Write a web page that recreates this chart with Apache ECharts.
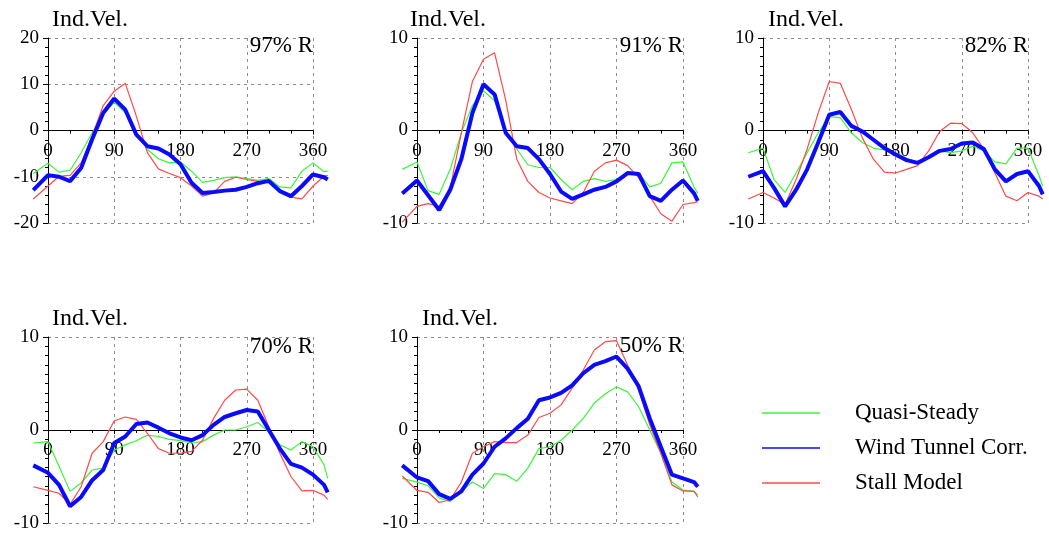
<!DOCTYPE html>
<html>
<head>
<meta charset="utf-8">
<script src="https://cdn.jsdelivr.net/npm/echarts@6/dist/echarts.min.js"></script>
<style>
html,body{margin:0;padding:0;background:#fff;}
#chart{width:1049px;height:538px;}
</style>
</head>
<body>
<div id="chart"></div>
<script>
// azimuth angles (deg)
const angles = [-20,0,15,30,45,60,75,90,105,120,135,150,165,180,195,210,225,240,255,270,285,300,315,330,345,360,375,380];
const xTicks = [0, 90, 180, 270, 360];
const seriesNames = ['Quasi-Steady', 'Wind Tunnel Corr.', 'Stall Model'];
const panelLabels = ['97% R', '91% R', '82% R', '70% R', '50% R'];

// 97% R
const qs97  = [-9.3,-7.1,-9.0,-8.6,-4.8,-0.5,3.5,6.1,3.8,-0.5,-4.1,-6.1,-7.0,-6.8,-8.8,-11.2,-10.8,-10.2,-10.0,-10.4,-10.8,-10.4,-12.2,-12.4,-8.8,-7.0,-8.9,-8.8];
const wtc97 = [-12.9,-9.65,-10.0,-10.95,-8.1,-1.9,3.8,6.9,4.5,-0.9,-3.4,-3.9,-5.2,-7.3,-11.3,-13.5,-13.3,-13.0,-12.8,-12.2,-11.4,-10.9,-13.1,-14.2,-12.0,-9.5,-10.1,-10.6];
const sm97  = [-14.8,-12.0,-9.9,-9.7,-7.0,-1.2,5.4,8.5,10.2,3.1,-4.8,-8.3,-9.3,-10.2,-12.0,-14.2,-13.5,-11.0,-10.1,-10.6,-11.0,-11.1,-13.3,-14.4,-14.8,-12.0,-9.9,-9.7];
// 91% R
const qs91  = [-4.2,-3.4,-6.5,-6.9,-4.2,-0.25,2.7,4.3,3.2,-0.1,-2.0,-3.7,-4.0,-4.0,-5.3,-6.4,-5.5,-5.2,-5.5,-5.3,-4.6,-4.6,-6.1,-5.7,-3.5,-3.4,-6.1,-6.8];
const wtc91 = [-6.8,-5.4,-7.0,-8.6,-6.4,-3.1,1.9,5.0,3.9,-0.25,-1.7,-1.9,-3.1,-4.7,-6.6,-7.4,-6.9,-6.4,-6.1,-5.5,-4.6,-4.7,-7.1,-7.6,-6.4,-5.4,-6.8,-7.6];
const sm91  = [-9.9,-8.2,-7.9,-8.2,-6.2,-0.25,5.3,7.7,8.4,3.3,-3.1,-5.5,-6.7,-7.3,-7.6,-7.9,-6.7,-4.4,-3.5,-3.2,-3.8,-5.1,-7.1,-9.0,-9.8,-8.0,-7.8,-7.7];
// 82% R
const qs82  = [-2.4,-1.9,-5.3,-6.7,-4.6,-2.4,-0.25,1.5,1.4,-0.25,-1.3,-1.9,-2.1,-2.4,-3.0,-3.4,-2.8,-2.2,-2.4,-2.2,-1.7,-2.2,-3.4,-3.6,-1.9,-1.9,-4.9,-6.0];
const wtc82 = [-5.0,-4.4,-6.2,-8.2,-6.4,-4.2,-1.3,1.7,2.0,0.5,-0.1,-1.0,-1.9,-2.6,-3.2,-3.5,-2.9,-2.2,-2.0,-1.4,-1.3,-2.0,-4.2,-5.5,-4.7,-4.4,-6.0,-6.9];
const sm82  = [-7.4,-6.7,-7.3,-8.0,-5.3,-2.0,1.9,5.3,5.1,2.3,-0.8,-3.1,-4.5,-4.6,-4.2,-3.8,-2.2,-0.1,0.8,0.75,-0.25,-2.0,-4.6,-7.1,-7.6,-6.7,-7.1,-7.4];
// 70% R
const qs70  = [-1.4,-1.25,-3.9,-6.6,-5.7,-4.3,-4.1,-2.15,-1.6,-1.15,-0.55,-0.7,-1.0,-1.15,-1.4,-1.25,-0.55,0,0,0.35,0.8,-0.2,-1.6,-2.15,-1.25,-1.8,-3.75,-5.2];
const wtc70 = [-3.8,-4.6,-5.9,-8.2,-7.2,-5.4,-4.3,-1.4,-0.7,0.65,0.8,0.25,-0.35,-0.8,-1.1,-0.55,0.55,1.4,1.8,2.15,2.0,0,-2.0,-3.65,-4.05,-4.8,-5.9,-6.7];
const sm70  = [-6.1,-6.5,-6.8,-8.0,-6.1,-2.5,-1.25,1.0,1.4,1.15,-0.35,-2.0,-2.5,-2.5,-2.3,-1.1,1.25,3.2,4.3,4.4,3.2,0.35,-2.5,-5.0,-6.55,-6.5,-7.0,-7.45];
// 50% R
const qs50  = [-5.2,-5.6,-6.0,-7.3,-7.7,-6.6,-5.6,-6.3,-4.7,-4.8,-5.5,-4.1,-2.0,-1.8,-1.1,0,1.25,2.9,3.9,4.65,4.1,2.5,0,-2.5,-5.6,-6.45,-6.6,-7.0];
const wtc50 = [-3.8,-5.1,-5.5,-6.9,-7.4,-6.6,-4.8,-3.6,-1.8,-0.9,0.2,1.2,3.2,3.5,4.0,4.8,6.1,7.0,7.4,7.9,6.6,4.7,1.25,-1.8,-4.8,-5.2,-5.6,-6.1];
const sm50  = [-4.95,-6.5,-6.7,-7.8,-7.5,-5.6,-2.5,-1.8,-1.25,-1.35,-1.35,-0.55,1.35,1.8,2.7,4.5,6.45,8.6,9.5,9.6,7.0,4.3,0.55,-2.5,-5.9,-6.55,-6.6,-7.2];

const yRanges = [20, 10, 10, 10, 10];
const panelData = [
  [qs97, wtc97, sm97],
  [qs91, wtc91, sm91],
  [qs82, wtc82, sm82],
  [qs70, wtc70, sm70],
  [qs50, wtc50, sm50]
];

const FONT = "'Liberation Serif','Times New Roman',serif";
const colors = ['#3cf53c', '#0a0aff', '#ff4a4a'];
const widths = [1.2, 4, 1.2];

// frame boxes (0..360 deg)
const frames = [
  {left: 48, top: 38, width: 265, height: 185},
  {left: 417, top: 38, width: 266, height: 185},
  {left: 763, top: 38, width: 265, height: 185},
  {left: 48, top: 337, width: 265, height: 186},
  {left: 417, top: 337, width: 266, height: 186}
];
const titlePos = [
  {left: 52, top: 8}, {left: 410, top: 8}, {left: 768, top: 8},
  {left: 52, top: 307}, {left: 422, top: 307}
];
const labelPos = [
  {right: 736, top: 34}, {right: 366, top: 34}, {right: 21, top: 34},
  {right: 736, top: 335}, {right: 366, top: 334}
];

const dashed = {show: true, lineStyle: {color: '#8c8c8c', type: [3, 4], width: 1}};
const xMin = angles[0], xMax = angles[angles.length - 1];
const xLo = xTicks[0], xHi = xTicks[xTicks.length - 1];

const grids = [], xAxes = [], yAxes = [], series = [], titles = [];
frames.forEach((g, i) => {
  const r = yRanges[i];
  const base = grids.length;
  // grid A: frame, dashed grid, y axis
  grids.push({left: g.left, top: g.top, width: g.width, height: g.height});
  xAxes.push({
    type: 'value', gridIndex: base, min: xLo, max: xHi, interval: 90,
    axisLine: {show: false}, axisTick: {show: false}, axisLabel: {show: false},
    splitLine: dashed
  });
  yAxes.push({
    type: 'value', gridIndex: base, min: -r, max: r, interval: 10,
    axisLine: {show: true, onZero: false, lineStyle: {color: '#000', width: 1}},
    axisTick: {show: true, length: 5, lineStyle: {color: '#000'}},
    minorTick: {show: true, splitNumber: r === 20 ? 5 : 10, length: 3, lineStyle: {color: '#000'}},
    axisLabel: {color: '#000', fontFamily: FONT, fontSize: 19, margin: 9, showMinLabel: true, showMaxLabel: true},
    splitLine: dashed
  });
  // grid B: upper half, bottom edge is the zero line -> x axis with labels
  grids.push({left: g.left, top: g.top, width: g.width, height: g.height / 2});
  xAxes.push({
    type: 'value', gridIndex: base + 1, position: 'bottom', min: xLo, max: xHi, interval: 90,
    axisLine: {show: true, onZero: false, lineStyle: {color: '#000', width: 1}},
    axisTick: {show: true, length: 4, lineStyle: {color: '#000'}},
    minorTick: {show: true, splitNumber: 3, length: 3, lineStyle: {color: '#000'}},
    axisLabel: {color: '#000', fontFamily: FONT, fontSize: 19, margin: 11, showMinLabel: true, showMaxLabel: true},
    splitLine: {show: false}
  });
  yAxes.push({type: 'value', gridIndex: base + 1, min: 0, max: r, show: false});
  // grid C: data area extended to xMin..xMax with same scale
  const pxPerDeg = g.width / (xHi - xLo);
  grids.push({left: g.left + (xMin - xLo) * pxPerDeg, top: g.top,
              width: (xMax - xMin) * pxPerDeg, height: g.height});
  xAxes.push({type: 'value', gridIndex: base + 2, min: xMin, max: xMax, show: false});
  yAxes.push({type: 'value', gridIndex: base + 2, min: -r, max: r, show: false});

  [0, 2, 1].forEach(k => {
    series.push({
      name: seriesNames[k], type: 'line', xAxisIndex: base + 2, yAxisIndex: base + 2,
      data: angles.map((a, j) => [a, panelData[i][k][j]]),
      showSymbol: false, symbol: 'none', clip: false, silent: true,
      color: colors[k],
      lineStyle: {color: colors[k], width: widths[k]},
      z: k === 1 ? 5 : 3
    });
  });
  titles.push({text: 'Ind.Vel.', left: titlePos[i].left, top: titlePos[i].top, padding: 0,
    textStyle: {fontFamily: FONT, fontSize: 24, fontWeight: 'normal', color: '#000'}});
  titles.push({text: panelLabels[i], right: labelPos[i].right, top: labelPos[i].top, padding: 0,
    textStyle: {fontFamily: FONT, fontSize: 23, fontWeight: 'normal', color: '#000'}});
});

const chart = echarts.init(document.getElementById('chart'), null, {renderer: 'canvas'});
chart.setOption({
  backgroundColor: '#fff',
  animation: false,
  title: titles,
  legend: {
    data: seriesNames, orient: 'vertical', left: 762, top: 401,
    icon: 'rect', itemWidth: 58, itemHeight: 1.3, itemGap: 11,
    selectedMode: false, padding: 0,
    textStyle: {fontFamily: FONT, fontSize: 23, color: '#000', lineHeight: 24, padding: [0, 0, 0, 30]}
  },
  grid: grids,
  xAxis: xAxes,
  yAxis: yAxes,
  series: series
});
</script>
</body>
</html>
